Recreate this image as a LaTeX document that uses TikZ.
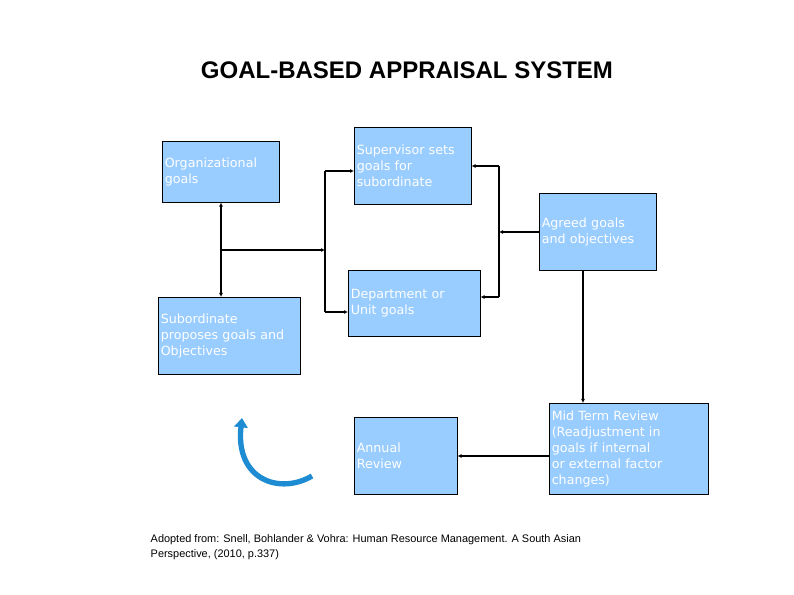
\documentclass[tikz,border=0pt]{standalone}
\usepackage{fontspec}
\setmainfont{Liberation Sans}
\newfontfamily\boxfont{DejaVu Sans}
\usetikzlibrary{arrows.meta}
\definecolor{boxblue}{RGB}{153,204,255}
\definecolor{curlblue}{RGB}{30,140,210}
\tikzset{
  stage/.style={draw=black,fill=boxblue,anchor=north west,inner sep=1pt,
    font=\boxfont\fontsize{9.5}{12}\selectfont,text=white,align=left},
  link/.style={thick,-{Latex[length=3pt,width=3pt]}}
}
\begin{document}
\begin{tikzpicture}[x=0.75pt,y=-0.75pt]
  \useasboundingbox (0,0) rectangle (794,595);
  \node[font=\bfseries\fontsize{18}{22}\selectfont] (title) at (407,70) {GOAL-BASED APPRAISAL SYSTEM};
  % boxes
  \node[stage,minimum width=117*0.75pt,minimum height=61*0.75pt,text width=112*0.75pt] (org) at (162,141) {Organizational\\goals};
  \node[stage,minimum width=117*0.75pt,minimum height=77*0.75pt,text width=112*0.75pt] (sup) at (354,127) {Supervisor sets\\goals for\\subordinate};
  \node[stage,minimum width=117*0.75pt,minimum height=77*0.75pt,text width=112*0.75pt] (agr) at (539,193) {Agreed goals\\and objectives};
  \node[stage,minimum width=142*0.75pt,minimum height=77*0.75pt,text width=137*0.75pt] (sub) at (158,297) {Subordinate\\proposes goals and\\Objectives};
  \node[stage,minimum width=132*0.75pt,minimum height=66*0.75pt,text width=127*0.75pt] (dept) at (348,270) {Department or\\Unit goals};
  \node[stage,minimum width=103*0.75pt,minimum height=77*0.75pt,text width=98*0.75pt] (ann) at (354,417) {Annual\\Review};
  \node[stage,minimum width=159*0.75pt,minimum height=91*0.75pt,text width=154*0.75pt] (mid) at (549,403) {Mid Term Review\\(Readjustment in\\goals if internal\\or external factor\\changes)};
  % junction points
  \coordinate (jl) at (221,250);
  \coordinate (jm) at (325,250);
  \coordinate (jr) at (499,232);
  % connectors
  \draw[thick,{Latex[length=3pt,width=3pt]}-{Latex[length=3pt,width=3pt]}] (org.south -| jl) -- (sub.north -| jl);
  \draw[link] (jl) -- (jm);
  \draw[thick] (325,171) -- (325,312);
  \draw[link] (325,171) -- (sup.west |- 0,171);
  \draw[link] (325,312) -- (dept.west |- 0,312);
  \draw[thick] (499,166) -- (499,297);
  \draw[link] (499,166) -- (sup.east |- 0,166);
  \draw[link] (499,297) -- (dept.east |- 0,297);
  \draw[link] (agr.west |- jr) -- (jr);
  \draw[link] (agr.south -| 583,0) -- (mid.north -| 583,0);
  \draw[link] (mid.west |- 0,456) -- (ann.east |- 0,456);
  % curved arrow
  \draw[curlblue,line width=4pt,-{Triangle[length=7pt,width=10pt]}] (312,476) .. controls (280,495) and (235,480) .. (242,418);
  \node[anchor=north west,align=left,font=\fontsize{8.2}{11}\selectfont] (src) at (146,530) {Adopted from: Snell, Bohlander \& Vohra: Human Resource Management. A South Asian\\Perspective, (2010, p.337)};
\end{tikzpicture}
\end{document}
